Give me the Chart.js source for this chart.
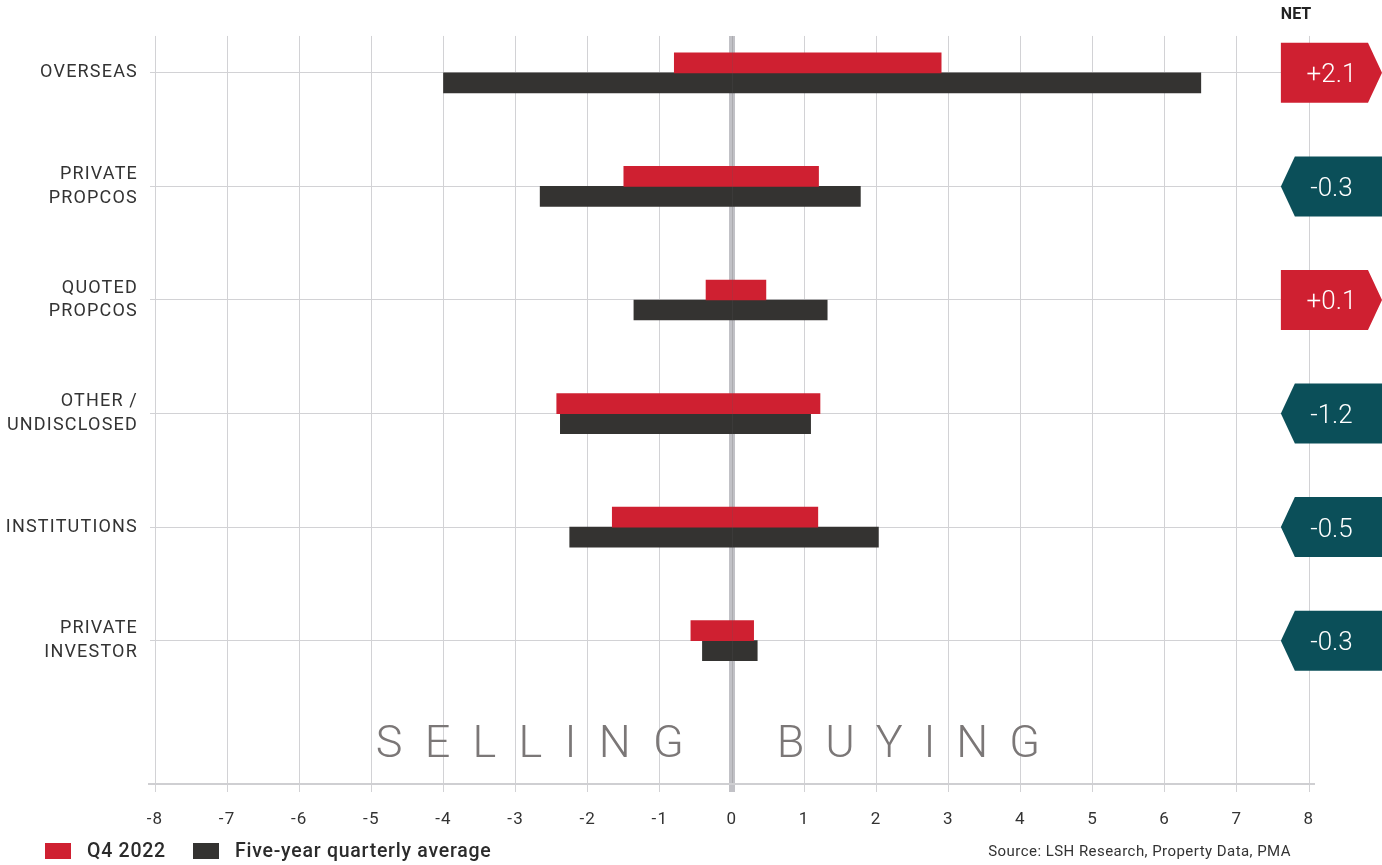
<!DOCTYPE html>
<html lang="en">
<head>
<meta charset="utf-8">
<title>Net investment by buyer type</title>
<script src="https://cdn.jsdelivr.net/npm/chart.js@4.4.1/dist/chart.umd.min.js"></script>
<style>
  html, body { margin: 0; padding: 0; background: #fff; }
  #wrap { position: relative; width: 1382px; height: 865px; overflow: hidden; }
  #wrap canvas { position: absolute; left: 0; top: 0; }
  .legend { position: absolute; left: 45px; top: 838px; display: flex; align-items: center;
            font: 500 19.5px Roboto, sans-serif; color: #2b2b2b; line-height: 26px; letter-spacing: 0.75px; }
  .legend .box { display: inline-block; width: 26px; height: 16px; margin-right: 16px; }
  .legend .item { display: flex; align-items: center; margin-right: 27px; }
  .source { position: absolute; right: 91px; top: 841px; font: 400 15px Roboto, sans-serif;
            color: #333; line-height: 20px; letter-spacing: 0.45px; }
</style>
</head>
<body>
<div id="wrap">
  <canvas id="netChart"></canvas>
  <div class="legend" id="legend"></div>
  <div class="source">Source: LSH Research, Property Data, PMA</div>
</div>
<script>
'use strict';

// ─── data ───────────────────────────────────────────────────────────────
const categories = [
  ['OVERSEAS'],
  ['PRIVATE', 'PROPCOS'],
  ['QUOTED', 'PROPCOS'],
  ['OTHER /', 'UNDISCLOSED'],
  ['INSTITUTIONS'],
  ['PRIVATE', 'INVESTOR']
];

// Q4 2022: selling (negative) and buying (positive), £bn
const q4Low  = [-0.80, -1.50, -0.36, -2.43, -1.66, -0.57];
const q4High = [ 2.90,  1.20,  0.47,  1.22,  1.19,  0.30];

// five-year quarterly average
const avgLow  = [-4.00, -2.66, -1.36, -2.38, -2.25, -0.41];
const avgHigh = [ 6.50,  1.78,  1.32,  1.09,  2.03,  0.35];

const seriesNames = ['Q4 2022', 'Five-year quarterly average'];
const xTickMin = -8;
const xTickMax = 8;

// ─── colours ────────────────────────────────────────────────────────────
const RED   = '#cf2031';
const DARK  = '#343331';
const TEAL  = '#0b4f59';
const GRID  = '#d2d2d5';
const ZERO  = '#c1c1c6';

const net = q4Low.map((lo, i) => Math.round((lo + q4High[i]) * 10) / 10);

function _fmtNet(v) {
  return (v > 0 ? '+' : '') + v.toFixed(1);
}

// ─── HTML legend ────────────────────────────────────────────────────────
const legendEl = document.getElementById('legend');
[RED, DARK].forEach((c, i) => {
  const item = document.createElement('span');
  item.className = 'item';
  item.innerHTML = `<span class="box" style="background:${c}"></span>${seriesNames[i]}`;
  legendEl.appendChild(item);
});

// ─── overlay: SELLING / BUYING, NET badges ──────────────────────────────
const overlay = {
  id: 'overlay',
  beforeDraw(chart) {
    chart.ctx.letterSpacing = '1.2px';
  },
  afterDatasetsDraw(chart) {
    const { ctx, chartArea, scales: { x } } = chart;
    const x0 = Math.round(x.getPixelForValue(0)) + 0.5;
    ctx.save();
    ctx.strokeStyle = 'rgba(90,90,90,0.2)';
    ctx.lineWidth = 1;
    ctx.beginPath();
    ctx.moveTo(x0, chartArea.top);
    ctx.lineTo(x0, chartArea.bottom);
    ctx.stroke();
    ctx.restore();
  },
  afterDraw(chart) {
    const { ctx, chartArea, scales: { x, y } } = chart;
    ctx.save();
    ctx.letterSpacing = '0px';

    // baseline runs a little past both ends of the plot
    ctx.strokeStyle = '#cfcfd2';
    ctx.lineWidth = 2;
    ctx.beginPath();
    ctx.moveTo(chartArea.left - 7, chartArea.bottom);
    ctx.lineTo(chartArea.right + 6, chartArea.bottom);
    ctx.stroke();

    // spaced-out words either side of zero
    ctx.font = '300 45px Roboto, sans-serif';
    ctx.fillStyle = '#7b7777';
    ctx.textBaseline = 'alphabetic';
    ctx.textAlign = 'left';
    const baseY = chartArea.bottom - 27;
    const spread = (word, from, to) => {
      const chars = word.split('');
      const widths = chars.map(c => ctx.measureText(c).width);
      const total = widths.reduce((a, b) => a + b, 0);
      const gap = (to - from - total) / (chars.length - 1);
      let cx = from;
      chars.forEach((c, i) => {
        ctx.fillText(c, cx, baseY);
        cx += widths[i] + gap;
      });
    };
    spread('SELLING', x.getPixelForValue(-4.94), x.getPixelForValue(-0.67));
    spread('BUYING', x.getPixelForValue(0.62), x.getPixelForValue(4.27));

    // NET header
    const bx0 = x.getPixelForValue(7.61);
    const bx1 = chart.width;
    ctx.font = '700 16px Roboto, sans-serif';
    ctx.fillStyle = '#222';
    ctx.textAlign = 'center';
    ctx.fillText('NET', x.getPixelForValue(7.82), 19);

    // badges: arrow right for positive, notch left for negative
    const h = 60, tip = 14;
    net.forEach((v, i) => {
      const cy = y.getPixelForValue(i);
      const top = cy - h / 2, bot = cy + h / 2;
      ctx.beginPath();
      if (v > 0) {
        ctx.moveTo(bx0, top);
        ctx.lineTo(bx1 - tip, top);
        ctx.lineTo(bx1, cy);
        ctx.lineTo(bx1 - tip, bot);
        ctx.lineTo(bx0, bot);
        ctx.fillStyle = RED;
      } else {
        ctx.moveTo(bx0, cy);
        ctx.lineTo(bx0 + tip, top);
        ctx.lineTo(bx1, top);
        ctx.lineTo(bx1, bot);
        ctx.lineTo(bx0 + tip, bot);
        ctx.fillStyle = TEAL;
      }
      ctx.closePath();
      ctx.fill();

      ctx.font = '300 26px Roboto, sans-serif';
      ctx.fillStyle = '#fff';
      ctx.textAlign = 'center';
      ctx.fillText(_fmtNet(v), (bx0 + bx1) / 2, cy + 9.5);
    });
    ctx.restore();
  }
};

// ─── chart ──────────────────────────────────────────────────────────────
const datasets = [
  {
    label: seriesNames[0],
    data: categories.map((c, i) => ({ y: i, x: [q4Low[i], q4High[i]] })),
    backgroundColor: RED
  },
  {
    label: seriesNames[1],
    data: categories.map((c, i) => ({ y: i, x: [avgLow[i], avgHigh[i]] })),
    backgroundColor: DARK
  }
].map(d => Object.assign(d, { barThickness: 20, borderWidth: 0, borderSkipped: false }));

new Chart(document.getElementById('netChart'), {
  type: 'bar',
  data: { datasets },
  options: {
    indexAxis: 'y',
    responsive: true,
    maintainAspectRatio: false,
    animation: false,
    layout: { padding: { left: 0, right: 73, top: 35, bottom: 0 } },
    plugins: {
      legend: { display: false },
      tooltip: {
        callbacks: {
          title: items => categories[items[0].parsed.y].join(' '),
          label: ctx => ` ${ctx.dataset.label}: ${ctx.raw.x[0]} to ${ctx.raw.x[1]}`
        }
      }
    },
    scales: {
      x: {
        type: 'linear',
        min: xTickMin,
        max: xTickMax,
        ticks: {
          stepSize: 1,
          color: '#333',
          padding: 18,
          font: { family: 'Roboto', size: 17 }
        },
        grid: {
          color: c => c.tick && c.tick.value === 0 ? ZERO : GRID,
          lineWidth: c => c.tick && c.tick.value === 0 ? 6 : 1,
          tickLength: 8
        },
        border: { display: false },
        afterFit: s => { s.height = 81; }
      },
      y: {
        type: 'linear',
        reverse: true,
        offset: false,
        min: -0.325,
        max: 6.262,
        afterBuildTicks: s => { s.ticks = categories.map((c, i) => ({ value: i })); },
        ticks: {
          color: '#333',
          padding: 12,
          font: { family: 'Roboto', size: 18, lineHeight: 1.33 },
          callback: v => categories[v]
        },
        grid: { color: GRID, lineWidth: 1, tickLength: 5, offset: false },
        border: { display: false },
        afterFit: s => { s.width = 155; }
      }
    }
  },
  plugins: [overlay]
});
</script>
</body>
</html>
